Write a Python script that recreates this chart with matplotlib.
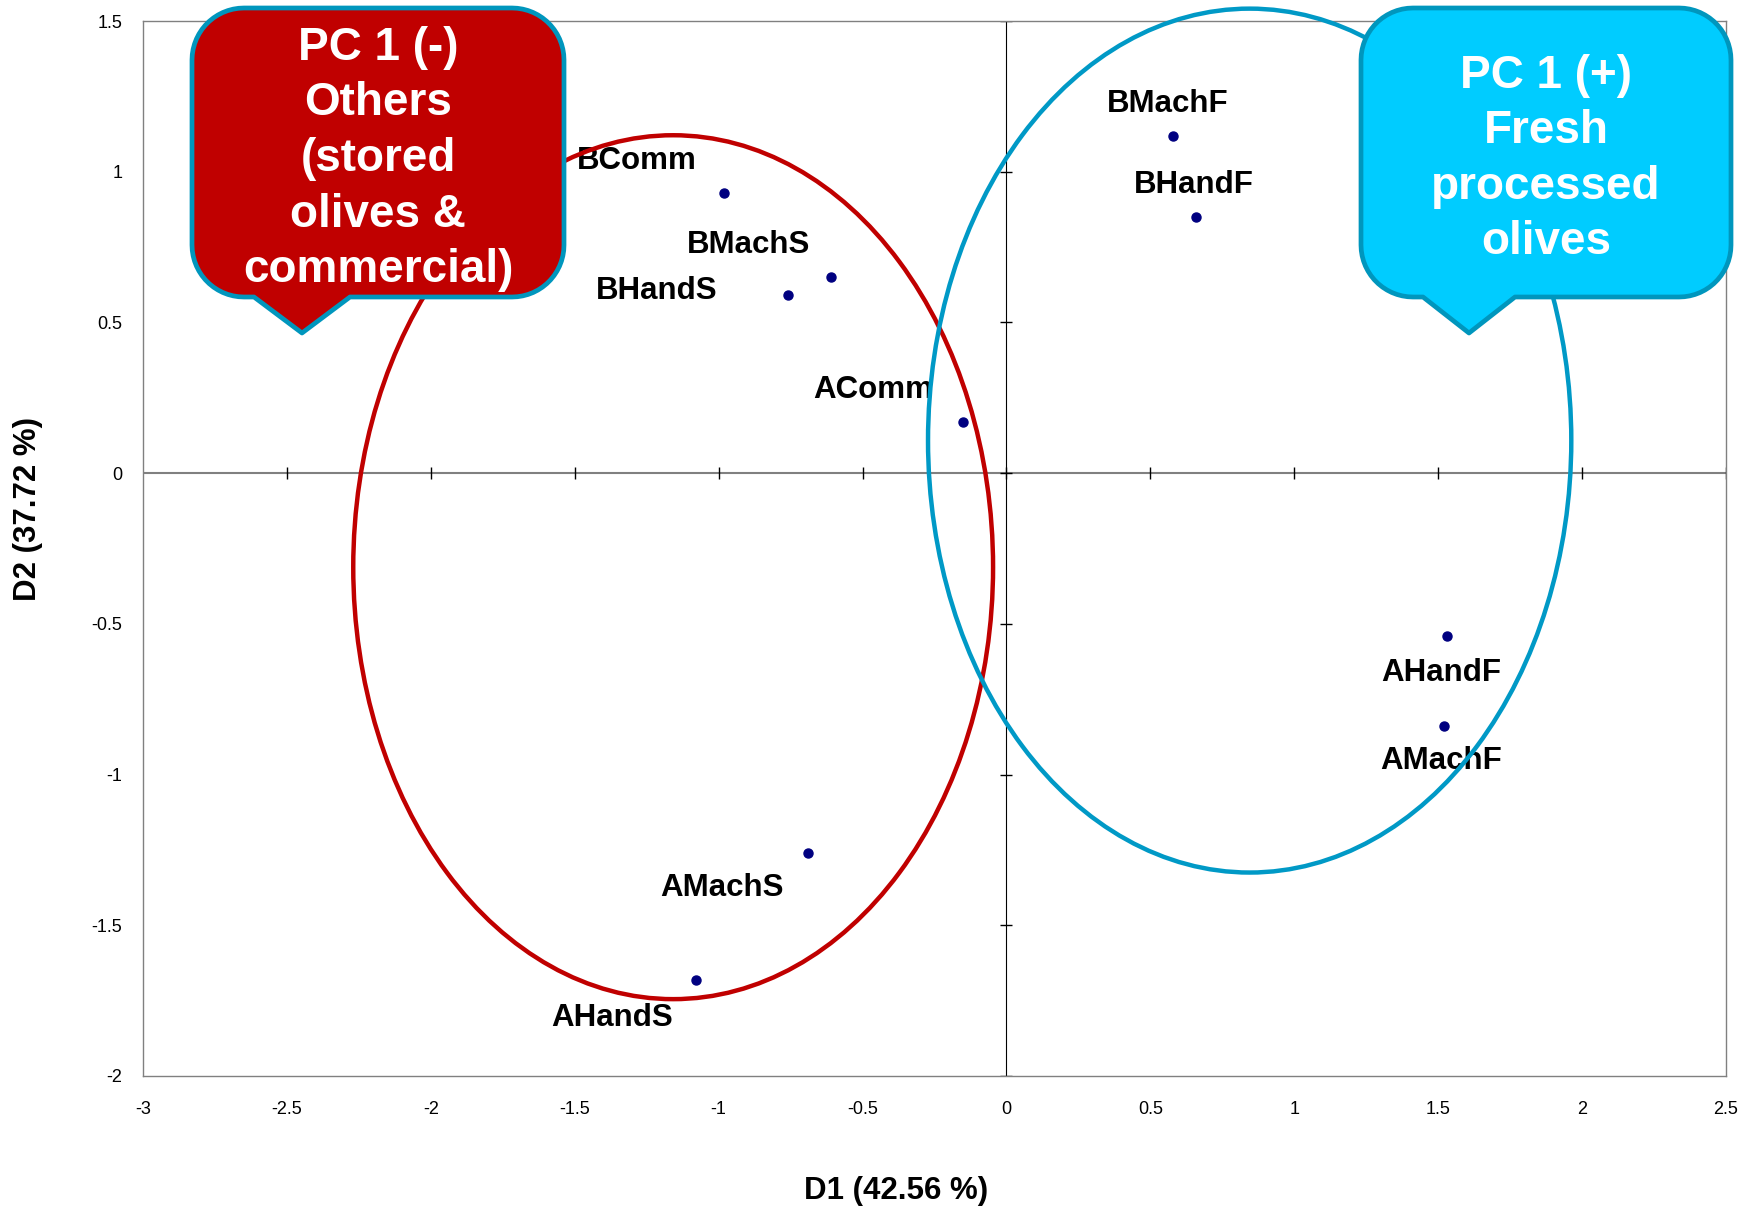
import numpy as np
import matplotlib
matplotlib.use("Agg")
import matplotlib.pyplot as plt
from matplotlib.patches import Ellipse, Polygon
from matplotlib.ticker import FuncFormatter

plt.rcParams["font.family"] = ["Liberation Sans", "DejaVu Sans"]
plt.rcParams["axes.unicode_minus"] = False

# PCA scores
names = ["BMachF", "BHandF", "BComm", "BMachS", "BHandS",
         "AComm", "AHandF", "AMachF", "AMachS", "AHandS"]
d1 = [0.58, 0.66, -0.98, -0.61, -0.76, -0.15, 1.53, 1.52, -0.69, -1.08]
d2 = [1.12, 0.85, 0.93, 0.65, 0.59, 0.17, -0.54, -0.84, -1.26, -1.68]

xticks = [-3, -2.5, -2, -1.5, -1, -0.5, 0, 0.5, 1, 1.5, 2, 2.5]
yticks = [1.5, 1, 0.5, 0, -0.5, -1, -1.5, -2]

# group ellipses: (centre x, centre y, width, height)
grp_neg = (-1.158, -0.312, 2.223, 2.866)
grp_pos = (0.845, 0.108, 2.235, 2.866)

# label offsets in points (dx, dy)
offs = {
    "BMachF": (-4, 23), "BHandF": (-2, 23), "BComm": (-63, 23),
    "BMachS": (-59, 23), "BHandS": (-94, 3), "AComm": (-65, 23),
    "AHandF": (-4, -27), "AMachF": (-2, -25), "AMachS": (-62, -25),
    "AHandS": (-60, -28),
}

W, H = 1754, 1208
fig = plt.figure(figsize=(W / 100, H / 100), dpi=100)
ax = fig.add_axes([143 / W, 1 - 1076 / H, (1726 - 143) / W, (1076 - 21) / H])
ax.set_xlim(-3, 2.5)
ax.set_ylim(-2, 1.5)
ax.set_xticks(xticks)
ax.set_yticks(yticks)
fmt = FuncFormatter(lambda v, p: "%g" % v)
ax.xaxis.set_major_formatter(fmt)
ax.yaxis.set_major_formatter(fmt)
ax.tick_params(axis="x", length=0, pad=18, labelsize=13)
ax.tick_params(axis="y", length=0, pad=15, labelsize=13)
for s in ax.spines.values():
    s.set_color("#808080")
    s.set_linewidth(1.0)

# cross axes through the origin with their own ticks
ax.axhline(0, color="#808080", lw=1.5, zorder=1)
ax.axvline(0, color="black", lw=0.8, zorder=1)
ax.plot(xticks[1:], [0] * len(xticks[1:]), ls="none", marker="|", ms=8,
        mew=1.0, color="black", zorder=1)
ax.plot([0] * len(yticks), yticks, ls="none", marker="_", ms=8,
        mew=1.0, color="black", zorder=1)

ax.plot(d1, d2, "o", ms=6.5, color="#000080", zorder=3)
for n, x, y in zip(names, d1, d2):
    ax.annotate(n, (x, y), xytext=offs[n], textcoords="offset points",
                ha="center", va="center", fontsize=22.5, fontweight="bold",
                color="black", zorder=3)

for (cx, cy, w, h), col in [(grp_neg, "#C00000"), (grp_pos, "#0099C6")]:
    ax.add_patch(Ellipse((cx, cy), w, h, fill=False, ec=col, lw=3.2,
                         clip_on=False, zorder=4))

fig.text(896 / W, 1 - 1191 / H, "D1 (42.56 %)", ha="center", va="center",
         fontsize=22.5, fontweight="bold")
fig.text(28 / W, 1 - 509 / H, "D2 (37.72 %)", ha="center", va="center",
         rotation=90, fontsize=22.5, fontweight="bold")


def callout(x0, y0, x1, y1, r, bx0, bx1, tip):
    # rounded box with a pointer on the bottom edge, pixel coords (y down)
    pts = []

    def arc(cx, cy, a0, a1):
        for a in np.linspace(np.radians(a0), np.radians(a1), 16):
            pts.append((cx + r * np.cos(a), cy + r * np.sin(a)))

    arc(x1 - r, y0 + r, -90, 0)
    arc(x1 - r, y1 - r, 0, 90)
    pts += [(bx1, y1), tip, (bx0, y1)]
    arc(x0 + r, y1 - r, 90, 180)
    arc(x0 + r, y0 + r, 180, 270)
    return [(px / W, 1 - py / H) for px, py in pts]


boxes = [
    (callout(192, 8, 564, 297, 52, 254, 350, (302, 333)), "#C00000",
     "PC 1 (-)\nOthers\n(stored\nolives &\ncommercial)"),
    (callout(1361, 8, 1731, 297, 52, 1423, 1515, (1469, 333)), "#00CCFF",
     "PC 1 (+)\nFresh\nprocessed\nolives"),
]
for verts, fc, txt in boxes:
    fig.add_artist(Polygon(verts, closed=True, fc=fc, ec="#0096BD", lw=3.4,
                           joinstyle="round", transform=fig.transFigure,
                           zorder=5))
    xs = [v[0] for v in verts]
    fig.text((min(xs) + max(xs)) / 2, 1 - 159 / H, txt, ha="center",
             va="center", color="white", fontsize=33, fontweight="bold",
             linespacing=1.34, zorder=6)

fig.savefig("out.png", dpi=100)
